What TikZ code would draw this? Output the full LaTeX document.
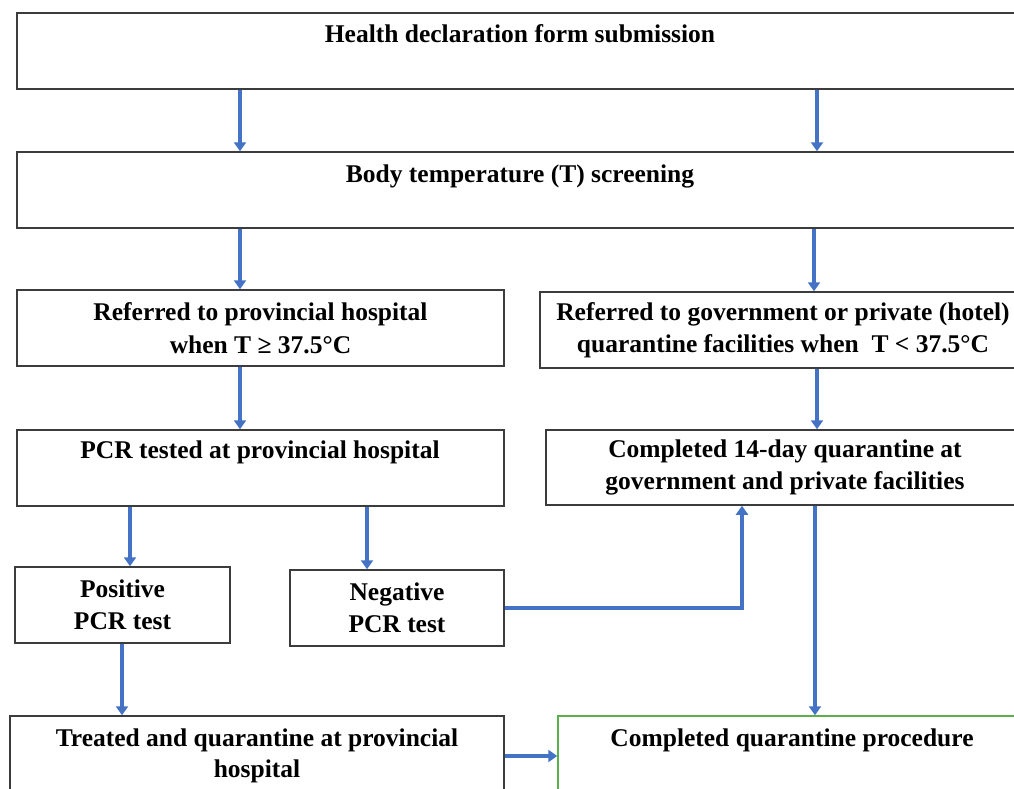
\documentclass[tikz,border=0pt]{standalone}
\usepackage{fontspec}
\setmainfont{Liberation Serif}
\usetikzlibrary{arrows.meta,calc}
\definecolor{ablue}{HTML}{4472C4}
\definecolor{agreen}{HTML}{5BB04A}
\definecolor{bord}{HTML}{3C3C3C}
\begin{document}
\begin{tikzpicture}[x=1pt,y=-1pt,
  box/.style={draw=bord, line width=1.5pt, rectangle, inner sep=0pt, align=center,
    font=\fontsize{25.5}{32.5}\selectfont\bfseries},
  lbl/.style={inner sep=0pt, align=center, anchor=base, font=\fontsize{25.5}{31}\selectfont\bfseries},
  arr/.style={draw=ablue, line width=3.4pt, -{Triangle[width=12pt,length=9pt]}}]
\useasboundingbox (0,0) rectangle (1014,789);
\clip (0,0) rectangle (1014,789);
% boxes
\node[box, minimum width=1013pt, minimum height=76pt] (b1) at (523.5,51) {};
\node[lbl] (t1) at (520,43) {Health declaration form submission};
\node[box, minimum width=1013pt, minimum height=76pt] (b2) at (523.5,190) {};
\node[lbl] (t2) at (520,182) {Body temperature (T) screening};
\node[box, minimum width=487pt, minimum height=76pt] (b3) at (260.5,328)
  {Referred to provincial hospital\\when T ≥ 37.5°C};
\node[box, minimum width=486pt, minimum height=76pt] (b4) at (783,330)
  {Referred to government or private (hotel)\\quarantine facilities when\ \ T < 37.5°C};
\node[box, minimum width=487pt, minimum height=76pt] (b5) at (260.5,468) {};
\node[lbl] (t5) at (260,458) {PCR tested at provincial hospital};
\node[box, minimum width=478pt, minimum height=75pt] (b6) at (785,467.5)
  {Completed 14-day quarantine at\\government and private facilities};
\node[box, minimum width=215pt, minimum height=76pt] (pos) at (122.5,605) {Positive\\PCR test};
\node[box, minimum width=214pt, minimum height=76pt] (neg) at (397,608) {Negative\\PCR test};
\node[box, minimum width=494pt, minimum height=100pt] (tr) at (257,766) {};
\node[lbl, anchor=north] (t7) at (257,729) {Treated and quarantine at provincial\\hospital};
\node[box, draw=agreen, minimum width=472pt, minimum height=100pt] (cp) at (794,766) {};
\node[lbl] (t8) at (792,746) {Completed quarantine procedure};
% connectors
\draw[arr] (240,0 |- b1.south) -- (240,0 |- b2.north);
\draw[arr] (817,0 |- b1.south) -- (817,0 |- b2.north);
\draw[arr] (240,0 |- b2.south) -- (240,0 |- b3.north);
\draw[arr] (814,0 |- b2.south) -- (814,0 |- b4.north);
\draw[arr] (240,0 |- b3.south) -- (240,0 |- b5.north);
\draw[arr] (817,0 |- b4.south) -- (817,0 |- b6.north);
\draw[arr] (130,0 |- b5.south) -- (130,0 |- pos.north);
\draw[arr] (367,0 |- b5.south) -- (367,0 |- neg.north);
\draw[arr] (neg.east) -| (742,0 |- b6.south);
\draw[arr] (815,0 |- b6.south) -- (815,0 |- cp.north);
\draw[arr] (122,0 |- pos.south) -- (122,0 |- tr.north);
\draw[arr, line width=4.5pt] (tr.east |- 0,756) -- (cp.west |- 0,756);
\end{tikzpicture}
\end{document}
